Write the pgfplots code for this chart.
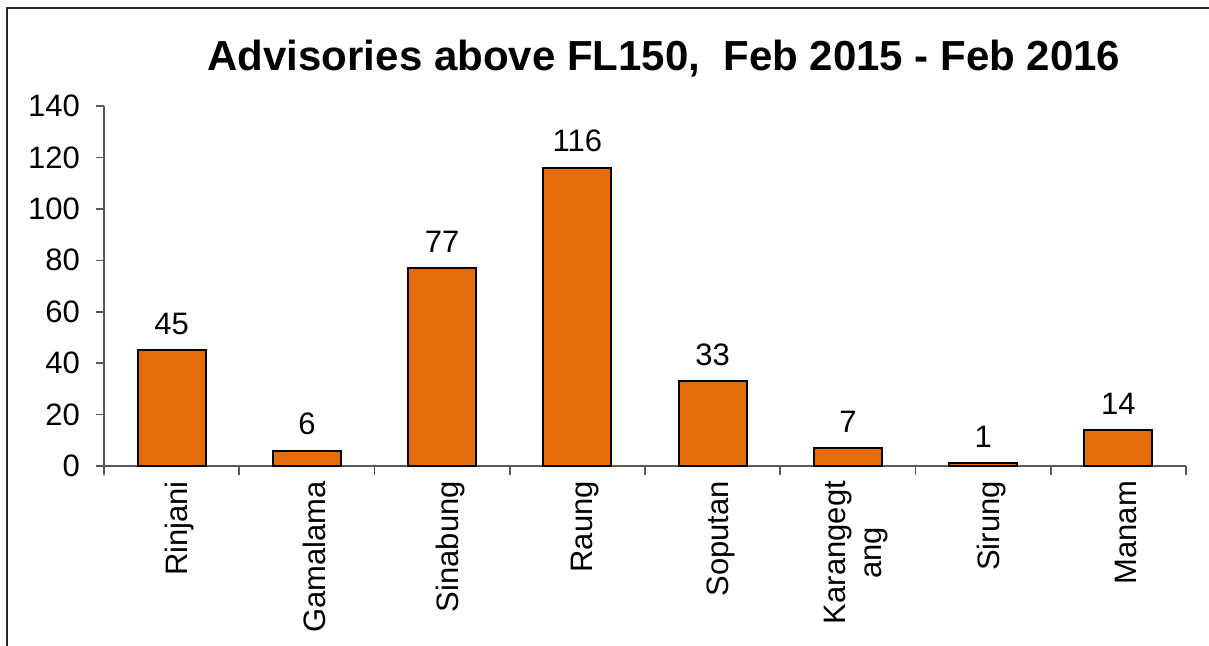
\documentclass[border=0pt]{standalone}
\usepackage{pgfplots}
\pgfplotsset{compat=1.18}
\usepackage{fontspec}
\setmainfont{Liberation Sans}
\definecolor{barorange}{HTML}{E46C0A}
\definecolor{axgray}{HTML}{595959}
\begin{document}
\begin{tikzpicture}
\useasboundingbox (0,0) rectangle (604.5pt,-322.5pt);
\draw[line width=1pt, black!85] (3.5pt,-330pt) -- (3.5pt,-4pt) -- (610pt,-4pt);
\node[anchor=base, font=\fontsize{21pt}{25pt}\selectfont\bfseries] at (332pt,-35pt) {Advisories above FL150,\ \ Feb 2015 - Feb 2016};
\begin{axis}[
  at={(52pt,-233pt)}, anchor=south west,
  scale only axis, width=541pt, height=180pt,
  xmin=-0.5, xmax=7.5, ymin=0, ymax=140,
  axis x line=bottom, axis y line=left,
  axis line style={-, axgray, line width=0.8pt},
  ytick={0,20,...,140},
  xtick={0,...,7},
  xticklabels={Rinjani,Gamalama,Sinabung,Raung,Soputan,{Karangegt\\ang},Sirung,Manam},
  minor xtick={-0.5,0.5,...,7.5},
  major x tick style={draw=none},
  minor tick length=4.5pt,
  major tick length=4pt,
  tick align=outside,
  tick style={axgray, line width=0.8pt},
  /pgf/number format/assume math mode=true,
  tick label style={font=\fontsize{15.5pt}{18pt}\selectfont},
  yticklabel style={xshift=-4.5pt},
  xticklabel style={rotate=90, anchor=east, align=center, yshift=-4pt},
  ybar, bar width=34pt,
  nodes near coords,
  every node near coord/.append style={font=\fontsize{15.5pt}{18pt}\selectfont, yshift=4pt},
]
\addplot[fill=barorange, draw=black, line width=1pt] coordinates {
 (0,45) (1,6) (2,77) (3,116) (4,33) (5,7) (6,1) (7,14)};
\end{axis}
\end{tikzpicture}
\end{document}
